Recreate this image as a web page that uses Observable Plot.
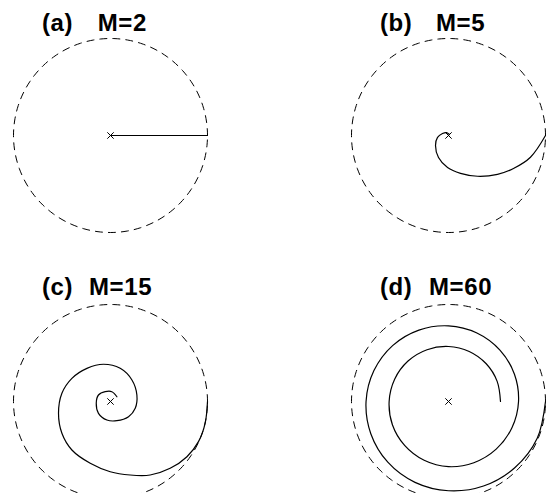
<!DOCTYPE html>
<html>
<head>
<meta charset="utf-8">
<script src="https://cdn.jsdelivr.net/npm/d3@7"></script>
<script src="https://cdn.jsdelivr.net/npm/@observablehq/plot@0.6"></script>
<style>
  html, body { margin: 0; padding: 0; background: white; overflow: hidden; }
  #root { position: relative; width: 546px; height: 493px; overflow: hidden; background: white; }
  .panel { position: absolute; }
  .ttl { position: absolute; font-family: "Liberation Sans", Arial, sans-serif; font-weight: bold;
         font-size: 24px; line-height: 24px; color: black; white-space: pre; z-index: 5; letter-spacing: 0.6px; }
</style>
</head>
<body>
<div id="root"></div>
<script>
// ---- data ----
const panelLabels = ["(a)", "(b)", "(c)", "(d)"];
const panelM = ["M=2", "M=5", "M=15", "M=60"];

// (a) M=2 : straight path, centre -> rim
const aX = [0, 1.0];
const aY = [0, 0];

// (b) M=5 : normalised x,y (y up)
const bX = [1.0, 0.845, 0.67, 0.505, 0.30, 0.124, -0.01, -0.103, -0.134, -0.113, -0.062, -0.02, 0.01];
const bY = [0.0, -0.224, -0.34, -0.40, -0.42, -0.39, -0.33, -0.227, -0.103, -0.02, 0.02, 0.03, 0.01];

// (c) M=15 : normalised x,y (y up)
const cX = [1.0, 0.976, 0.907, 0.788, 0.615, 0.409, 0.203, -0.003, -0.209, -0.398, -0.501, -0.536, -0.501, -0.398, -0.243, -0.072, 0.1, 0.221, 0.272, 0.255, 0.186, 0.066, -0.037, -0.124, -0.147, -0.124, -0.055, 0.014, 0.066];
const cY = [0.0, -0.222, -0.414, -0.569, -0.689, -0.758, -0.758, -0.724, -0.637, -0.5, -0.328, -0.122, 0.085, 0.239, 0.342, 0.384, 0.342, 0.222, 0.067, -0.07, -0.157, -0.198, -0.191, -0.122, -0.019, 0.067, 0.101, 0.101, 0.049];

// (d) M=60 : polar readings (angle in degrees, radius normalised)
const dAngle = [0, -22.5, -45, -67.5, -90, -112.5, -135, -157.5, -180, -202.5, -225, -247.5, -270, -292.5, -315, -337.5, -360, -382.5, -405, -427.5, -450, -472.5, -495, -517.5, -540, -562.5, -585, -607.5, -630, -652.5, -675, -697.5, -720];
const dRadius = [1.0, 0.99, 0.966, 0.943, 0.92, 0.902, 0.885, 0.867, 0.85, 0.832, 0.815, 0.797, 0.78, 0.765, 0.75, 0.736, 0.722, 0.708, 0.695, 0.683, 0.672, 0.656, 0.64, 0.626, 0.612, 0.601, 0.59, 0.578, 0.567, 0.558, 0.55, 0.543, 0.536];

// ---- layout ----
const R = 97;              // pixel radius of the unit circle
const half = 110;          // half size of each panel svg
const centers = [[110, 135], [448, 135], [110, 401], [448, 401]];
const labelLeft = [[42, 97.7], [380, 436], [42, 89], [380, 429]];
const baselines = [31.7, 31.7, 295.3, 295.3];

const zip = (xs, ys) => xs.map((x, i) => ({x, y: ys[i]}));
const paths = [
  zip(aX, aY),
  zip(bX, bY),
  zip(cX, cY),
  dAngle.map((a, i) => ({x: dRadius[i] * Math.cos(a * Math.PI / 180), y: dRadius[i] * Math.sin(a * Math.PI / 180)}))
];
const unitCircle = d3.range(0, 361, 2).map(a => ({x: Math.cos(a * Math.PI / 180), y: Math.sin(a * Math.PI / 180)}));

const root = document.getElementById("root");
const dom = half / R;

paths.forEach((pts, i) => {
  const [cx, cy] = centers[i];
  const svg = Plot.plot({
    width: 2 * half,
    height: 2 * half,
    margin: 0,
    style: {background: "transparent", overflow: "visible"},
    x: {domain: [-dom, dom], axis: null},
    y: {domain: [-dom, dom], axis: null},
    marks: [
      Plot.line(unitCircle, {x: "x", y: "y", stroke: "black", strokeWidth: 1, strokeDasharray: "7,6"}),
      Plot.line(pts, {x: "x", y: "y", stroke: "black", strokeWidth: 1.2, curve: i === 0 ? "linear" : "catmull-rom"}),
      Plot.dot([{x: 0, y: 0}], {x: "x", y: "y", symbol: "times", r: 3, stroke: "black", strokeWidth: 1})
    ]
  });
  svg.classList.add("panel");
  svg.style.left = (cx - half) + "px";
  svg.style.top = (cy - half) + "px";
  root.appendChild(svg);

  const top = baselines[i] - 20.3;
  const l1 = document.createElement("div");
  l1.className = "ttl";
  l1.textContent = panelLabels[i];
  l1.style.left = labelLeft[i][0] + "px";
  l1.style.top = top + "px";
  root.appendChild(l1);
  const l2 = document.createElement("div");
  l2.className = "ttl";
  l2.textContent = panelM[i];
  l2.style.left = labelLeft[i][1] + "px";
  l2.style.top = top + "px";
  root.appendChild(l2);
});
</script>
</body>
</html>
